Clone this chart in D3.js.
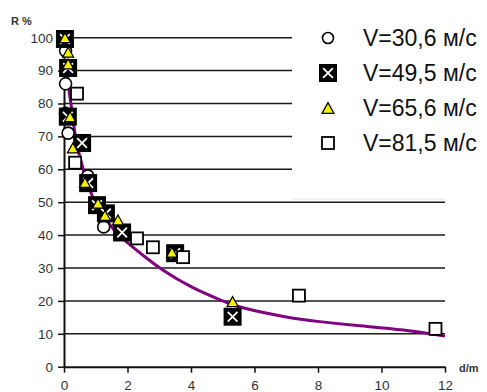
<!DOCTYPE html>
<html>
<head>
<meta charset="utf-8">
<script src="https://cdn.jsdelivr.net/npm/d3@7"></script>
<style>
  body { margin: 0; background: #fff; }
  svg { display: block; font-family: "Liberation Sans", Arial, sans-serif; }
</style>
</head>
<body>
<svg id="chart" width="487" height="392"></svg>
<script>
// data
const circleD = [0.05, 0.05, 0.05, 0.13, 0.75, 1.25];
const circleR = [96, 86, 77, 71, 58, 42.5];

const boxD = [0.03, 0.13, 0.12, 0.57, 0.76, 1.04, 1.32, 1.83, 3.5, 5.31];
const boxR = [99.6, 90.8, 76, 68, 55.8, 49.1, 46.6, 40.8, 34.5, 15.2];

const triD = [0.03, 0.13, 0.13, 0.19, 0.28, 0.66, 1.07, 1.29, 1.7, 3.4, 5.31];
const triR = [100, 95.6, 92, 76, 66.5, 56, 49.7, 46, 44.6, 34.8, 19.8];

const sqD = [0.41, 0.35, 2.3, 2.8, 3.75, 7.4, 11.7];
const sqR = [83, 62, 39, 36.3, 33.3, 21.6, 11.5];

const curveD = [0.1, 0.13, 0.24, 0.35, 0.66, 0.76, 1.0, 1.5, 2.0, 2.6, 3.0, 4.0, 5.0, 5.5, 7.0, 8.0, 9.3, 10.7, 12.0];
const curveR = [92, 85, 79, 69, 58, 55, 49, 42, 37.6, 33, 30, 24, 20, 18, 15, 13.7, 12.4, 11.3, 9.3];

const yTicks = [0, 10, 20, 30, 40, 50, 60, 70, 80, 90, 100];
const xTicks = [0, 2, 4, 6, 8, 10, 12];
const legendLabels = ["V=30,6 м/с", "V=49,5 м/с", "V=65,6 м/с", "V=81,5 м/с"];

const svg = d3.select("#chart");

const x = d3.scaleLinear().domain([0, 12]).range([64, 445]);
const y = d3.scaleLinear().domain([0, 100]).range([366.7, 37.7]);

const LEGEND_LEFT = 292;

// grid lines (upper ones are hidden behind the legend box)
svg.append("g").selectAll("line")
  .data(yTicks.filter(d => d > 0))
  .join("line")
  .attr("x1", x(0))
  .attr("x2", d => d >= 60 ? LEGEND_LEFT : x(12))
  .attr("y1", d => y(d))
  .attr("y2", d => y(d))
  .attr("stroke", "#1a1a1a")
  .attr("stroke-width", 1.5);

// legend background bottom edge
svg.append("line")
  .attr("x1", LEGEND_LEFT).attr("x2", x(12))
  .attr("y1", 199).attr("y2", 199)
  .attr("stroke", "#e4e4e4").attr("stroke-width", 1);

// y axis
const yAxis = svg.append("g")
  .attr("transform", `translate(${x(0)},0)`)
  .call(d3.axisLeft(y).tickValues(yTicks).tickSize(6).tickSizeOuter(0));
yAxis.select(".domain").attr("stroke", "#111").attr("stroke-width", 2);
yAxis.selectAll(".tick line").attr("stroke", "#111").attr("stroke-width", 1.5);
yAxis.selectAll(".tick text")
  .attr("x", -11)
  .attr("fill", "#333")
  .style("font-size", "13.5px");

// x axis
const xAxis = svg.append("g")
  .attr("transform", `translate(0,${y(0)})`)
  .call(d3.axisBottom(x).tickValues(xTicks).tickSize(6).tickSizeOuter(0));
xAxis.select(".domain").attr("stroke", "#111").attr("stroke-width", 2);
xAxis.selectAll(".tick line").attr("stroke", "#111").attr("stroke-width", 1.5);
xAxis.selectAll(".tick text")
  .attr("y", 14)
  .attr("fill", "#333")
  .style("font-size", "13.5px");

// axis titles
svg.append("text")
  .attr("x", 11).attr("y", 25)
  .style("font-size", "11px").style("font-weight", "bold").attr("fill", "#333")
  .text("R %");
svg.append("text")
  .attr("x", 459).attr("y", 372)
  .style("font-size", "11px").style("font-weight", "bold").attr("fill", "#333")
  .text("d/m");

// fitted curve
const curvePts = curveD.map((d, i) => [d, curveR[i]]);
svg.append("path")
  .datum(curvePts)
  .attr("d", d3.line()
    .x(d => x(d[0]))
    .y(d => y(d[1]))
    .curve(d3.curveBasis))
  .attr("fill", "none")
  .attr("stroke", "#800080")
  .attr("stroke-width", 3);

// marker helpers
function drawCircle(g, cx, cy, r) {
  g.append("circle").attr("cx", cx).attr("cy", cy).attr("r", r)
    .attr("fill", "#fff").attr("stroke", "#000").attr("stroke-width", 1.6);
}
function drawBox(g, cx, cy, s) {
  g.append("rect").attr("x", cx - s / 2).attr("y", cy - s / 2)
    .attr("width", s).attr("height", s).attr("fill", "#000");
  const a = s * 0.27;
  g.append("path")
    .attr("d", `M${cx - a},${cy - a}L${cx + a},${cy + a}M${cx - a},${cy + a}L${cx + a},${cy - a}`)
    .attr("stroke", "#fff").attr("stroke-width", 1.8);
}
function drawTri(g, cx, cy, s) {
  const h = s * 0.9;
  g.append("path")
    .attr("d", `M${cx},${cy - h / 2}L${cx + s / 2},${cy + h / 2}L${cx - s / 2},${cy + h / 2}Z`)
    .attr("fill", "#f4f000").attr("stroke", "#000").attr("stroke-width", 1.2);
}
function drawSq(g, cx, cy, s) {
  g.append("rect").attr("x", cx - s / 2).attr("y", cy - s / 2)
    .attr("width", s).attr("height", s)
    .attr("fill", "#fff").attr("stroke", "#000").attr("stroke-width", 1.8);
}

const marks = svg.append("g");
circleD.forEach((d, i) => drawCircle(marks, x(d), y(circleR[i]), 6));
boxD.forEach((d, i) => drawBox(marks, x(d), y(boxR[i]), 18));
triD.forEach((d, i) => drawTri(marks, x(d), y(triR[i]), 11));
sqD.forEach((d, i) => drawSq(marks, x(d), y(sqR[i]), 12));

// legend
const legend = svg.append("g");
const rowY = i => 38 + 35 * i;
drawCircle(legend, 328, rowY(0), 5.5);
drawBox(legend, 328, rowY(1), 18);
drawTri(legend, 328, rowY(2), 12);
drawSq(legend, 328, rowY(3), 12);

legend.selectAll("text")
  .data(legendLabels)
  .join("text")
  .attr("x", 363)
  .attr("y", (d, i) => rowY(i))
  .attr("dy", "0.35em")
  .attr("fill", "#111")
  .style("font-size", "23px")
  .text(d => d);
</script>
</body>
</html>
